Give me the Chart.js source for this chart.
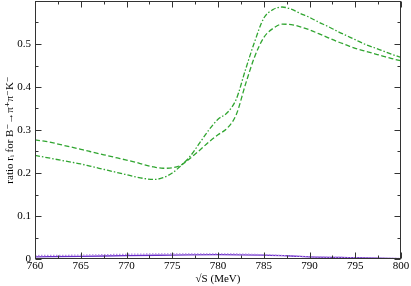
<!DOCTYPE html>
<html>
<head>
<meta charset="utf-8">
<script src="https://cdn.jsdelivr.net/npm/chart.js@4/dist/chart.umd.min.js"></script>
<style>
  html, body { margin: 0; padding: 0; background: #fff; }
</style>
</head>
<body>
<canvas id="chart" width="411" height="286"></canvas>
<script>
const energies = [760, 761, 762, 763, 764, 765, 766, 767, 768, 769, 770, 771, 772, 773, 774,
  775, 776, 777, 778, 779, 780, 781, 782, 783, 784, 785, 786, 787, 788, 789, 790, 791, 792,
  793, 794, 795, 796, 797, 798, 799, 800];

const ratioDashed = [0.277, 0.274, 0.270, 0.265, 0.260, 0.255, 0.250, 0.245, 0.240, 0.235,
  0.230, 0.225, 0.219, 0.214, 0.211, 0.212, 0.219, 0.235, 0.253, 0.272, 0.289, 0.304, 0.336,
  0.406, 0.470, 0.515, 0.536, 0.546, 0.545, 0.540, 0.533, 0.524, 0.515, 0.506, 0.498, 0.490,
  0.484, 0.478, 0.472, 0.466, 0.461];

const ratioDashDot = [0.241, 0.237, 0.233, 0.229, 0.225, 0.221, 0.216, 0.211, 0.206, 0.201,
  0.196, 0.191, 0.187, 0.185, 0.189, 0.200, 0.218, 0.240, 0.270, 0.300, 0.325, 0.340, 0.372,
  0.440, 0.505, 0.560, 0.580, 0.586, 0.581, 0.571, 0.562, 0.551, 0.541, 0.530, 0.520, 0.510,
  0.500, 0.492, 0.484, 0.476, 0.469];

const purpleEnergies = [760, 765, 770, 775, 780, 785, 788, 790, 795, 800];
const ratioSolidPurple = [0.005, 0.006, 0.008, 0.009, 0.010, 0.009, 0.007, 0.005, 0.003, 0.001];
const ratioDottedPurple = [0.008, 0.009, 0.011, 0.012, 0.012, 0.010, 0.007, 0.005, 0.003, 0.001];

const xMajorTicks = [760, 765, 770, 775, 780, 785, 790, 795, 800];
const xMinorTicks = [762.5, 767.5, 772.5, 777.5, 782.5, 787.5, 792.5, 797.5];
const yMajorTicks = [0, 0.1, 0.2, 0.3, 0.4, 0.5, 0.6];
const yMinorTicks = [0.05, 0.15, 0.25, 0.35, 0.45, 0.55];

function pts(xs, ys) {
  return xs.map((x, i) => ({ x: x, y: ys[i] }));
}

// frame around the plot with inward ticks on all four sides
const frameTicks = {
  id: "frameTicks",
  afterDraw(chart) {
    const { ctx, chartArea: a, scales } = chart;
    const L = Math.round(a.left) + 0.5, R = Math.round(a.right) - 0.5;
    const T = Math.round(a.top) + 0.5, B = Math.round(a.bottom) - 0.5;
    ctx.save();
    ctx.strokeStyle = "#333";
    ctx.lineWidth = 1;
    ctx.strokeRect(L, T, R - L, B - T);
    ctx.beginPath();
    const xt = (v, len) => {
      const px = Math.round(scales.x.getPixelForValue(v)) + 0.5;
      ctx.moveTo(px, B); ctx.lineTo(px, B - len);
      ctx.moveTo(px, T); ctx.lineTo(px, T + len);
    };
    const yt = (v, len) => {
      const py = Math.round(scales.y.getPixelForValue(v)) + 0.5;
      ctx.moveTo(L, py); ctx.lineTo(L + len, py);
      ctx.moveTo(R, py); ctx.lineTo(R - len, py);
    };
    xMajorTicks.forEach((v) => xt(v, 6));
    xMinorTicks.forEach((v) => xt(v, 3));
    yMajorTicks.forEach((v) => yt(v, 6));
    yMinorTicks.forEach((v) => yt(v, 3));
    ctx.stroke();
    ctx.restore();
  },
};

const serif = "'Liberation Serif', 'DejaVu Serif', serif";

new Chart(document.getElementById("chart"), {
  type: "line",
  data: {
    datasets: [
      {
        data: pts(purpleEnergies, ratioDottedPurple),
        borderColor: "#b48be6",
        borderWidth: 1.3,
        borderDash: [1.5, 1.5],
      },
      {
        data: pts(purpleEnergies, ratioSolidPurple),
        borderColor: "#6a2ec8",
        borderWidth: 1.3,
      },
      {
        data: pts(energies, ratioDashed),
        borderColor: "#30a530",
        borderWidth: 1.3,
        borderDash: [5, 2.5],
      },
      {
        data: pts(energies, ratioDashDot),
        borderColor: "#30a530",
        borderWidth: 1.3,
        borderDash: [5, 2, 1.5, 2],
      },
    ],
  },
  options: {
    responsive: false,
    animation: false,
    parsing: false,
    layout: { padding: { top: 1, right: 10, left: 0, bottom: 0 } },
    elements: {
      point: { radius: 0 },
      line: { cubicInterpolationMode: "monotone", fill: false },
    },
    plugins: {
      legend: { display: false },
      tooltip: { enabled: false },
    },
    scales: {
      x: {
        type: "linear",
        min: 760,
        max: 800,
        grid: { display: false, drawTicks: false },
        border: { display: false },
        ticks: {
          stepSize: 5,
          padding: 1,
          maxRotation: 0,
          color: "#000",
          font: { family: serif, size: 11 },
        },
        title: {
          display: true,
          text: "√S (MeV)",
          color: "#000",
          padding: { top: 0, bottom: 0 },
          font: { family: serif, size: 11 },
        },
        afterFit(scale) {
          scale.height = 27;
          scale.paddingLeft = 0;
          scale.paddingRight = 0;
        },
      },
      y: {
        min: 0,
        max: 0.6,
        grid: { display: false, drawTicks: false },
        border: { display: false },
        ticks: {
          stepSize: 0.1,
          padding: 4,
          color: "#000",
          font: { family: serif, size: 11 },
          callback: (v) => (v > 0.55 ? "" : Number(v.toFixed(1)).toString()),
        },
        title: {
          display: true,
          text: "ratio rᵢ for B⁻→π⁺π⁻K⁻",
          color: "#000",
          padding: { top: 4, bottom: 0 },
          font: { family: serif, size: 11 },
        },
        afterFit(scale) {
          scale.width = 35;
          scale.paddingTop = 0;
          scale.paddingBottom = 0;
        },
      },
    },
  },
  plugins: [frameTicks],
});
</script>
</body>
</html>
